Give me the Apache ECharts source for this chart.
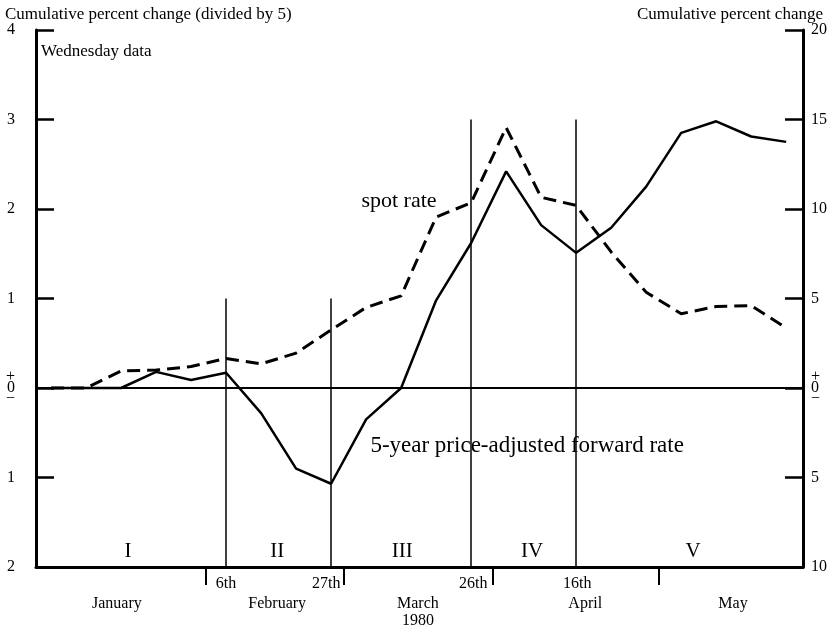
<!DOCTYPE html>
<html>
<head>
<meta charset="utf-8">
<script src="https://cdn.jsdelivr.net/npm/echarts@6/dist/echarts.min.js"></script>
<style>
  html, body { margin: 0; padding: 0; background: #fff; }
  #chart { width: 837px; height: 630px; }
</style>
</head>
<body>
<div id="chart"></div>
<script>
// weeks counted from Wednesday 2 January 1980 (week 0)
const weeks = [0, 1, 2, 3, 4, 5, 6, 7, 8, 9, 10, 11, 12, 13, 14, 15, 16, 17, 18, 19, 20, 21];
// cumulative percent change, divided by 5
const forwardRate = [0, 0, 0, 0.18, 0.09, 0.17, -0.28, -0.9, -1.07, -0.35, 0, 0.98, 1.62, 2.42, 1.82, 1.51, 1.79, 2.25, 2.85, 2.98, 2.81, 2.75];
const spotRate = [0, 0, 0.19, 0.2, 0.24, 0.33, 0.27, 0.39, 0.65, 0.9, 1.03, 1.91, 2.07, 2.91, 2.13, 2.04, 1.52, 1.07, 0.83, 0.91, 0.92, 0.67];

// period dividers (6 Feb, 27 Feb, 26 Mar, 16 Apr) and their heights
const dividerWeeks = [5, 8, 12, 15];
const dividerTops = [1, 1, 3, 3];
const dayLabels = ['6th', '27th', '26th', '16th'];
const dayLabelPos = [5, 7.86, 12.06, 15.03];

const periodNames = ['I', 'II', 'III', 'IV', 'V'];
const periodPos = [2.2, 6.46, 10.03, 13.74, 18.34];

const monthNames = ['January', 'February', 'March\n1980', 'April', 'May'];
const monthPos = [1.88, 6.46, 10.48, 15.26, 19.48];
const monthTicks = [4.43, 8.37, 12.63, 17.37];

const FONT = 'Liberation Serif';
const chart = echarts.init(document.getElementById('chart'));

function zeroLabel(v) {
  if (v === 0) return '{s|+}\n{z|0}\n{s|\u2212}';
  return String(Math.abs(v));
}
const zeroRich = {
  s: { fontFamily: FONT, fontSize: 16, lineHeight: 10, color: '#000' },
  z: { fontFamily: FONT, fontSize: 16, lineHeight: 12, color: '#000' }
};

const option = {
  animation: false,
  backgroundColor: '#fff',
  textStyle: { fontFamily: FONT, color: '#000' },
  grid: { left: 36, right: 34, top: 30, bottom: 63 },
  xAxis: [
    {
      type: 'value', min: -0.43, max: 21.48, position: 'bottom',
      axisLine: { show: true, onZero: false, lineStyle: { color: '#000', width: 3 } },
      axisTick: { show: true, inside: false, length: 18, customValues: monthTicks, lineStyle: { color: '#000', width: 2 } },
      axisLabel: {
        customValues: monthPos, margin: 28, fontFamily: FONT, fontSize: 16, color: '#000', lineHeight: 17,
        formatter: v => monthNames[monthPos.indexOf(v)] || ''
      },
      splitLine: { show: false }
    },
    {
      type: 'value', min: -0.43, max: 21.48, position: 'bottom', gridIndex: 0,
      axisLine: { show: false, onZero: false }, axisTick: { show: false },
      axisLabel: {
        customValues: dayLabelPos, margin: 9, fontFamily: FONT, fontSize: 16, color: '#000',
        formatter: v => dayLabels[dayLabelPos.indexOf(v)] || ''
      },
      splitLine: { show: false }
    }
  ],
  yAxis: [
    {
      type: 'value', min: -2, max: 4, interval: 1, position: 'left',
      axisLine: { show: true, onZero: false, lineStyle: { color: '#000', width: 3 } },
      axisTick: { show: true, inside: true, length: 18, lineStyle: { color: '#000', width: 2.5 } },
      axisLabel: { margin: 21, fontFamily: FONT, fontSize: 16, color: '#000', formatter: zeroLabel, rich: zeroRich },
      splitLine: { show: false }
    },
    {
      type: 'value', min: -10, max: 20, interval: 5, position: 'right',
      axisLine: { show: true, onZero: false, lineStyle: { color: '#000', width: 3 } },
      axisTick: { show: true, inside: true, length: 18, lineStyle: { color: '#000', width: 2.5 } },
      axisLabel: { margin: 8, fontFamily: FONT, fontSize: 16, color: '#000', formatter: zeroLabel, rich: zeroRich },
      splitLine: { show: false }
    }
  ],
  series: [
    {
      name: '5-year price-adjusted forward rate',
      type: 'line', xAxisIndex: 0, yAxisIndex: 0,
      data: weeks.map((w, i) => [w, forwardRate[i]]),
      symbol: 'none',
      lineStyle: { color: '#000', width: 2.5, type: 'solid' },
      markLine: {
        silent: true, symbol: 'none', label: { show: false },
        lineStyle: { color: '#000', width: 1.5, type: 'solid' },
        data: [{ yAxis: 0, lineStyle: { width: 2 } }].concat(dividerWeeks.map((w, i) => [
          { coord: [w, -2] }, { coord: [w, dividerTops[i]] }
        ]))
      },
      markPoint: {
        symbol: 'circle', symbolSize: 0, silent: true,
        label: { show: true, position: 'inside', fontFamily: FONT, fontSize: 21, color: '#000', formatter: p => p.name },
        data: periodNames.map((n, i) => ({ name: n, coord: [periodPos[i], -1.83] })).concat([
          { name: '5-year price-adjusted forward rate', coord: [13.6, -0.65], label: { fontSize: 23 } }
        ])
      }
    },
    {
      name: 'spot rate',
      type: 'line', xAxisIndex: 0, yAxisIndex: 0,
      data: weeks.map((w, i) => [w, spotRate[i]]),
      symbol: 'none',
      lineStyle: { color: '#000', width: 3, type: [13, 7] },
      markPoint: {
        symbol: 'circle', symbolSize: 0, silent: true,
        label: { show: true, position: 'inside', fontFamily: FONT, fontSize: 22, color: '#000', formatter: p => p.name },
        data: [{ name: 'spot rate', coord: [9.94, 2.09] }]
      }
    }
  ],
  graphic: [
    { type: 'text', left: 5, top: 6, style: { text: 'Cumulative percent change (divided by 5)', font: '17px "Liberation Serif"', fill: '#000' } },
    { type: 'text', right: 14, top: 6, style: { text: 'Cumulative percent change', font: '17px "Liberation Serif"', fill: '#000' } },
    { type: 'text', left: 41, top: 43, style: { text: 'Wednesday data', font: '17px "Liberation Serif"', fill: '#000' } }
  ]
};
chart.setOption(option);
</script>
</body>
</html>
